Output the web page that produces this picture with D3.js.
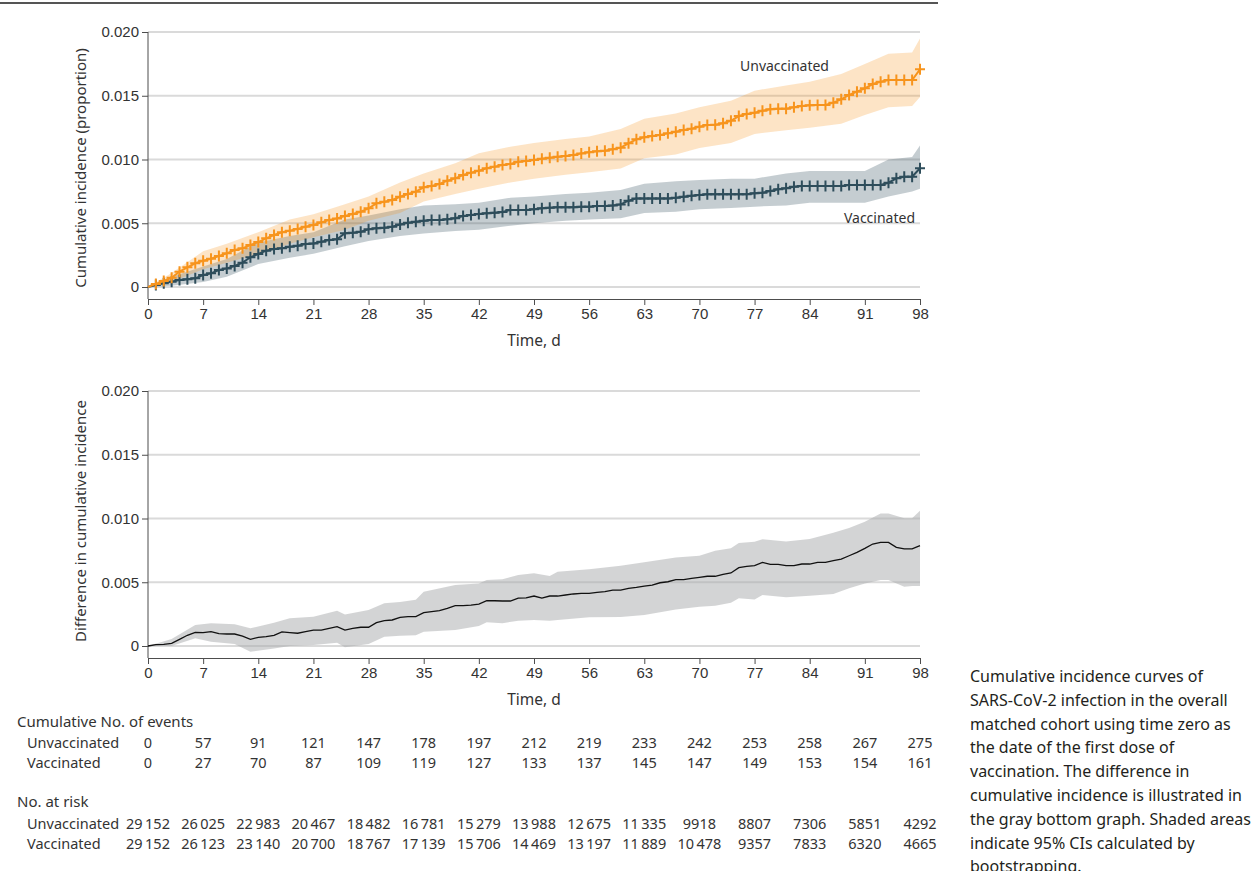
<!DOCTYPE html>
<html>
<head>
<meta charset="utf-8">
<script src="https://cdn.jsdelivr.net/npm/d3@7"></script>
<style>
  body { margin: 0; background: #fff; }
  svg { display: block; font-family: "Noto Sans", sans-serif; }
  .tick text { fill: #333; font-size: 15px; }
  .tick line, .domain { stroke: #4d4d4d; }
</style>
</head>
<body>
<svg id="chart" width="1259" height="871"></svg>
<script>
// time axis (days) and tick days
const days = d3.range(0, 99);
const tickDays = [0, 7, 14, 21, 28, 35, 42, 49, 56, 63, 70, 77, 84, 91, 98];
const yTicks = [0, 0.005, 0.010, 0.015, 0.020];

// cumulative incidence, read per day
const unvacc = [0, 0.00024, 0.00047, 0.00073, 0.0012, 0.00154, 0.00186, 0.00206, 0.00222, 0.00243,
  0.00264, 0.0029, 0.00303, 0.00329, 0.00352, 0.00382, 0.00408, 0.00429, 0.00442, 0.00455,
  0.00473, 0.00486, 0.00507, 0.00525, 0.00538, 0.00557, 0.00573, 0.0059, 0.00617, 0.00656,
  0.00669, 0.00682, 0.00708, 0.00729, 0.00748, 0.00782, 0.00792, 0.00808, 0.00834, 0.00852,
  0.00878, 0.00897, 0.00912, 0.00931, 0.00944, 0.00957, 0.00965, 0.00983, 0.00988, 0.00996,
  0.01006, 0.01014, 0.01022, 0.01027, 0.01035, 0.01048, 0.01056, 0.01064, 0.01069, 0.0108,
  0.01093, 0.01127, 0.01158, 0.01174, 0.01184, 0.01192, 0.01205, 0.01218, 0.01231, 0.01242,
  0.01257, 0.0127, 0.01273, 0.01284, 0.01304, 0.01341, 0.01357, 0.01367, 0.01383, 0.01394,
  0.01398, 0.01398, 0.01409, 0.0142, 0.01425, 0.01427, 0.01427, 0.01446, 0.01472, 0.01506,
  0.01532, 0.01558, 0.01592, 0.0161, 0.01623, 0.01623, 0.01623, 0.01623, 0.01707];

const vacc = [0, 0.00016, 0.00029, 0.00042, 0.00055, 0.0006, 0.00068, 0.00094, 0.00107, 0.00133,
  0.00146, 0.00165, 0.00191, 0.00233, 0.00259, 0.00285, 0.00298, 0.00303, 0.00316, 0.00324,
  0.00337, 0.00342, 0.00355, 0.00369, 0.00374, 0.00421, 0.00426, 0.00434, 0.00452, 0.0046,
  0.00465, 0.00473, 0.0049, 0.00504, 0.00512, 0.0052, 0.00525, 0.00525, 0.00531, 0.00539,
  0.00557, 0.00565, 0.00573, 0.00578, 0.00583, 0.00588, 0.00604, 0.00604, 0.00604, 0.00609,
  0.00617, 0.00622, 0.00625, 0.00625, 0.00625, 0.0063, 0.0063, 0.00635, 0.00635, 0.0064,
  0.00648, 0.00677, 0.00695, 0.00695, 0.00695, 0.00695, 0.00695, 0.007, 0.00708, 0.00716,
  0.00722, 0.00727, 0.00727, 0.00727, 0.00727, 0.00727, 0.00727, 0.00735, 0.0074, 0.00753,
  0.00766, 0.00774, 0.00787, 0.00792, 0.00792, 0.00792, 0.00792, 0.00792, 0.00792, 0.008,
  0.008, 0.008, 0.008, 0.008, 0.00818, 0.00852, 0.00865, 0.00865, 0.00931];

const diff = [0, 0.0001, 0.00012, 0.00021, 0.00052, 0.00084, 0.00107, 0.00105, 0.00112, 0.00097,
  0.00094, 0.00094, 0.00078, 0.00052, 0.00068, 0.00073, 0.00084, 0.0011, 0.00105, 0.001,
  0.00112, 0.00125, 0.00125, 0.00139, 0.00152, 0.00125, 0.00139, 0.00147, 0.00147, 0.00183,
  0.00199, 0.00204, 0.00225, 0.0023, 0.0023, 0.00261, 0.00269, 0.00277, 0.00295, 0.00316,
  0.00316, 0.00321, 0.00329, 0.00355, 0.00355, 0.00353, 0.00353, 0.00376, 0.00378, 0.00392,
  0.00376, 0.00392, 0.00392, 0.004, 0.00408, 0.00413, 0.00413, 0.00421, 0.00426, 0.00439,
  0.00439, 0.00452, 0.00459, 0.0047, 0.00478, 0.00496, 0.00504, 0.0052, 0.0052, 0.00531,
  0.00539, 0.00547, 0.00547, 0.00562, 0.00573, 0.00614, 0.00625, 0.0063, 0.00656, 0.0064,
  0.0064, 0.0063, 0.0063, 0.00643, 0.00643, 0.00656, 0.00656, 0.00669, 0.00682, 0.00708,
  0.00735, 0.00766, 0.008, 0.00813, 0.00813, 0.00774, 0.00761, 0.00761, 0.00787];

// 95% CI bands
const bandDays = [0, 3, 7, 10, 14, 18, 21, 25, 28, 32, 35, 39, 42, 46, 49, 53, 56, 60, 63, 67,
  70, 74, 77, 81, 84, 88, 91, 94, 97, 98];
const unvaccLo = [0, 0.0004, 0.0014, 0.0019, 0.0026, 0.0034, 0.0039, 0.0045, 0.0052, 0.0058,
  0.0067, 0.0073, 0.0077, 0.0082, 0.0085, 0.0088, 0.0090, 0.0093, 0.0101, 0.0104,
  0.0109, 0.0113, 0.0120, 0.0123, 0.0125, 0.0128, 0.0135, 0.0141, 0.0142, 0.0149];
const unvaccHi = [0, 0.0011, 0.0028, 0.0034, 0.0043, 0.0053, 0.0057, 0.0065, 0.0071, 0.0082,
  0.0089, 0.0097, 0.0105, 0.0110, 0.0113, 0.0116, 0.0118, 0.0124, 0.0132, 0.0136,
  0.0141, 0.0146, 0.0154, 0.0158, 0.0161, 0.0167, 0.0175, 0.0183, 0.0184, 0.0195];
const vaccLo = [0, 0.0001, 0.0004, 0.0008, 0.0018, 0.0023, 0.0026, 0.0032, 0.0036, 0.0040,
  0.0042, 0.0044, 0.0045, 0.0048, 0.0050, 0.0052, 0.0053, 0.0054, 0.0058, 0.0059,
  0.0061, 0.0062, 0.0063, 0.0064, 0.0066, 0.0066, 0.0066, 0.0071, 0.0075, 0.0077];
const vaccHi = [0, 0.0008, 0.0016, 0.0022, 0.0035, 0.0040, 0.0043, 0.0053, 0.0056, 0.0061,
  0.0064, 0.0065, 0.0066, 0.0070, 0.0071, 0.0073, 0.0074, 0.0076, 0.0081, 0.0083,
  0.0084, 0.0085, 0.0085, 0.0089, 0.0091, 0.0091, 0.0091, 0.0100, 0.0102, 0.0111];

const diffBandDays = [0, 3, 6, 8, 11, 13, 16, 18, 21, 24, 25, 28, 30, 32, 34, 35, 39, 42, 43, 45,
  47, 49, 51, 52, 56, 60, 63, 67, 70, 72, 74, 75, 77, 78, 81, 84, 87, 89, 91, 93, 94, 96, 97, 98];
const diffLo = [0, 0, 0.0006, 0.00034, 0.00016, -0.00045, -0.0002, 0, 0.00008, 0.00026, -0.0001,
  0.00016, 0.00073, 0.0008, 0.00084, 0.00112, 0.00125, 0.00157, 0.00186, 0.00178,
  0.00199, 0.00204, 0.00199, 0.00204, 0.00225, 0.00228, 0.00243, 0.00287, 0.00308, 0.00315,
  0.0034, 0.00374, 0.00365, 0.004, 0.00382, 0.00395, 0.00408, 0.00452, 0.00491, 0.00517,
  0.00517, 0.00465, 0.0047, 0.0047];
const diffHi = [0, 0.00055, 0.00165, 0.00178, 0.0017, 0.00139, 0.00183, 0.00217, 0.0023, 0.00277, 0.00248,
  0.00282, 0.00335, 0.00346, 0.00363, 0.00426, 0.00478, 0.00491, 0.00517, 0.00523,
  0.00557, 0.0057, 0.0055, 0.00583, 0.00602, 0.0063, 0.00656, 0.00695, 0.00708, 0.00748,
  0.00766, 0.00808, 0.00818, 0.00837, 0.0082, 0.00839, 0.00889, 0.00925, 0.00975, 0.0104,
  0.0104, 0.01001, 0.01001, 0.01061];

// table below the plots
const eventsUnvacc = [0, 57, 91, 121, 147, 178, 197, 212, 219, 233, 242, 253, 258, 267, 275];
const eventsVacc = [0, 27, 70, 87, 109, 119, 127, 133, 137, 145, 147, 149, 153, 154, 161];
const riskUnvacc = [29152, 26025, 22983, 20467, 18482, 16781, 15279, 13988, 12675, 11335, 9918, 8807, 7306, 5851, 4292];
const riskVacc = [29152, 26123, 23140, 20700, 18767, 17139, 15706, 14469, 13197, 11889, 10478, 9357, 7833, 6320, 4665];

const captionLines = [
  "Cumulative incidence curves of",
  "SARS-CoV-2 infection in the overall",
  "matched cohort using time zero as",
  "the date of the first dose of",
  "vaccination. The difference in",
  "cumulative incidence is illustrated in",
  "the gray bottom graph. Shaded areas",
  "indicate 95% CIs calculated by",
  "bootstrapping."
];

const ORANGE = "#f7941d";
const TEAL = "#2e4d5b";

const svg = d3.select("#chart");

// top rule
svg.append("line")
  .attr("x1", 0).attr("x2", 938).attr("y1", 3).attr("y2", 3)
  .attr("stroke", "#555").attr("stroke-width", 2);

const x = d3.scaleLinear().domain([0, 98]).range([148, 920]);

function drawPanel(topY, zeroY, axisY, title, titleY) {
  const y = d3.scaleLinear().domain([0, 0.02]).range([zeroY, topY]);
  const g = svg.append("g");

  // gridlines
  g.selectAll(".grid").data(yTicks).enter().append("line")
    .attr("x1", x(0)).attr("x2", x(98))
    .attr("y1", d => y(d)).attr("y2", d => y(d))
    .attr("stroke", "#dadada").attr("stroke-width", 2);

  // y axis
  const ya = g.append("g").attr("transform", `translate(${x(0)},0)`)
    .call(d3.axisLeft(y).tickValues(yTicks)
      .tickFormat(d => d === 0 ? "0" : d3.format(".3f")(d)).tickSizeOuter(0));
  ya.select(".domain").attr("d", `M0,${topY}V${axisY}`);

  // x axis
  g.append("g").attr("transform", `translate(0,${axisY})`)
    .call(d3.axisBottom(x).tickValues(tickDays).tickSizeOuter(0));

  g.append("text")
    .attr("transform", `translate(86,${titleY}) rotate(-90)`)
    .attr("text-anchor", "middle").attr("fill", "#333").attr("font-size", 15)
    .text(title);

  g.append("text")
    .attr("x", (x(0) + x(98)) / 2).attr("y", axisY + 47)
    .attr("text-anchor", "middle").attr("fill", "#333").attr("font-size", 15.5)
    .text("Time, d");

  return { g, y };
}

// ---- top panel ----
const topPanel = drawPanel(32, 287, 299, "Cumulative incidence (proportion)", 168);

function band(g, y, bd, lo, hi, fill, op) {
  const area = d3.area()
    .x((d, i) => x(bd[i]))
    .y0((d, i) => y(lo[i]))
    .y1((d, i) => y(hi[i]));
  g.append("path").datum(bd).attr("d", area)
    .attr("fill", fill).attr("fill-opacity", op);
}

band(topPanel.g, topPanel.y, bandDays, vaccLo, vaccHi, TEAL, 0.28);
band(topPanel.g, topPanel.y, bandDays, unvaccLo, unvaccHi, ORANGE, 0.25);

function curve(g, y, vals, color) {
  const line = d3.line().x((d, i) => x(days[i])).y(d => y(d));
  g.append("path").datum(vals).attr("d", line)
    .attr("fill", "none").attr("stroke", color).attr("stroke-width", 2);
  g.selectAll(null).data(vals.slice(1)).enter().append("path")
    .attr("transform", (d, i) => `translate(${x(days[i + 1])},${y(d)})`)
    .attr("d", "M-5,0H5M0,-5.5V5.5")
    .attr("stroke", color).attr("stroke-width", 2);
}

curve(topPanel.g, topPanel.y, vacc, TEAL);
curve(topPanel.g, topPanel.y, unvacc, ORANGE);

topPanel.g.append("text").attr("x", 740).attr("y", 71)
  .attr("fill", "#333").attr("font-size", 14).text("Unvaccinated");
topPanel.g.append("text").attr("x", 915).attr("y", 223).attr("text-anchor", "end")
  .attr("fill", "#333").attr("font-size", 14).text("Vaccinated");

// ---- bottom panel ----
const botPanel = drawPanel(391, 646, 658, "Difference in cumulative incidence", 521);
band(botPanel.g, botPanel.y, diffBandDays, diffLo, diffHi, "#a7a9ac", 0.5);
botPanel.g.append("path").datum(diff)
  .attr("d", d3.line().x((d, i) => x(days[i])).y(d => botPanel.y(d)))
  .attr("fill", "none").attr("stroke", "#111").attr("stroke-width", 1.3);

// ---- table ----
const fmt = n => n >= 10000 ? d3.format(",")(n).replace(",", "\u2009") : String(n);
const tbl = svg.append("g").attr("font-size", 15).attr("fill", "#333");

function header(text, yy) {
  tbl.append("text").attr("x", 17).attr("y", yy).text(text);
}
function row(label, vals, yy) {
  tbl.append("text").attr("x", 27).attr("y", yy).attr("font-size", 14.5).text(label);
  tbl.selectAll(null).data(vals).enter().append("text")
    .attr("x", (d, i) => x(tickDays[i])).attr("y", yy)
    .attr("text-anchor", "middle").attr("font-size", 14.5).text(d => fmt(d));
}
header("Cumulative No. of events", 727);
row("Unvaccinated", eventsUnvacc, 748);
row("Vaccinated", eventsVacc, 768);
header("No. at risk", 807);
row("Unvaccinated", riskUnvacc, 829);
row("Vaccinated", riskVacc, 849);

// ---- caption (last line runs off the bottom edge, as in the source) ----
svg.append("g").selectAll("text").data(captionLines).enter().append("text")
  .attr("x", 970).attr("y", (d, i) => 682 + i * 23.8)
  .attr("font-size", 16).attr("fill", "#231f20")
  .text(d => d);
</script>
</body>
</html>
